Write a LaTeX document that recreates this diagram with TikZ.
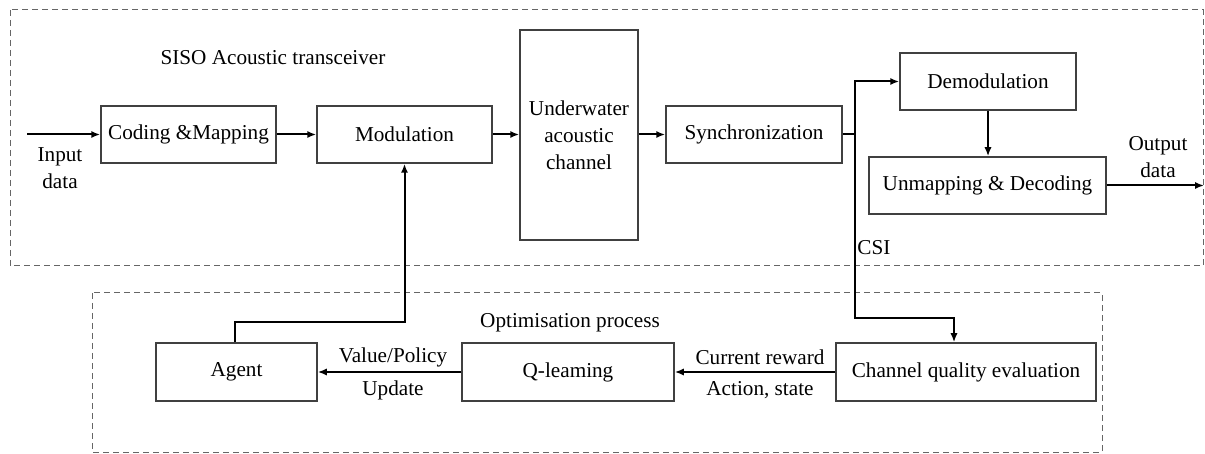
\documentclass[tikz,border=0pt]{standalone}
\usepackage{fontspec}
\setmainfont{Liberation Serif}
\usetikzlibrary{arrows.meta,calc}
\tikzset{
  blk/.style={draw=black!75, line width=0.75pt, inner sep=1pt, align=center,
    minimum height=28.5pt, font=\fontsize{10.6}{13.5}\selectfont},
  flow/.style={draw=black, line width=1pt, -{Latex[length=4.5pt,width=3.6pt]}},
  wire/.style={draw=black, line width=1pt},
  group/.style={draw=black!60, line width=0.5pt, dash pattern=on 3pt off 2pt},
  lbl/.style={align=center, inner sep=0pt, font=\fontsize{10.6}{13.5}\selectfont}
}
\begin{document}
\begin{tikzpicture}[x=0.5pt,y=-0.5pt]
\useasboundingbox (0,0) rectangle (1205,454);

% dashed enclosures
\draw[group] (10,10) rectangle (1203,266);
\draw[group] (92,293) rectangle (1102,452);
\node[lbl] (tlabel) at (273,58) {SISO Acoustic transceiver};
\node[lbl] (olabel) at (570,323) {Optimisation process};

% transceiver chain
\node[blk, minimum width=87.5pt] (cm) at (188.5,134.5) {Coding \&Mapping};
\node[blk, minimum width=87.5pt] (mod) at (404.5,134.5) {Modulation};
\node[blk, minimum width=59pt, minimum height=105pt] (uw) at (579,135) {Underwater\\acoustic\\channel};
\node[blk, minimum width=88pt] (sync) at (754,134.5) {Synchronization};
\node[blk, minimum width=88pt] (demod) at (988,81.5) {Demodulation};
\node[blk, minimum width=118.5pt] (unmap) at (987.5,185.5) {Unmapping \& Decoding};

% optimisation loop
\node[blk, minimum width=80.5pt, minimum height=29pt] (agent) at (236.5,372) {Agent};
\node[blk, minimum width=106pt, minimum height=29pt] (ql) at (568,372) {Q-leaming};
\node[blk, minimum width=130pt, minimum height=29pt] (cqe) at (966,372) {Channel quality evaluation};

% free ends and bends
\coordinate (in) at (27,134.5);
\coordinate (out) at (1204,185.5);
\coordinate (split) at (855,134.5);
\coordinate (turn) at (855,318);

\draw[flow] (in) -- (cm.west);
\draw[flow] (cm.east) -- (mod.west);
\draw[flow] (mod.east) -- (mod.east -| uw.west);
\draw[flow] (uw.east |- sync.west) -- (sync.west);
\draw[wire] (sync.east) -- (split);
\draw[flow] (split) |- (demod.west);
\draw[flow] (split) -- (turn) -| ([xshift=-6pt]cqe.north);
\draw[flow] (demod.south) -- (demod.south |- unmap.north);
\draw[flow] (unmap.east) -- (out);
\draw[flow] (cqe.west) -- (ql.east);
\draw[flow] (ql.west) -- (agent.east);
\draw[flow] ([xshift=-1pt]agent.north) -- ++(0,-20) -| (mod.south);

% text labels
\node[lbl] (inlbl) at (60,168) {Input\\data};
\node[lbl] (outlbl) at (1158,157) {Output\\data};
\node[lbl, anchor=west] (csi) at (857,248) {CSI};
\node[lbl] (vp) at (393,357) {Value/Policy};
\node[lbl] (upd) at (393,390) {Update};
\node[lbl] (cr) at (760,357) {Current reward};
\node[lbl] (as) at (760,390) {Action, state};
\end{tikzpicture}
\end{document}
